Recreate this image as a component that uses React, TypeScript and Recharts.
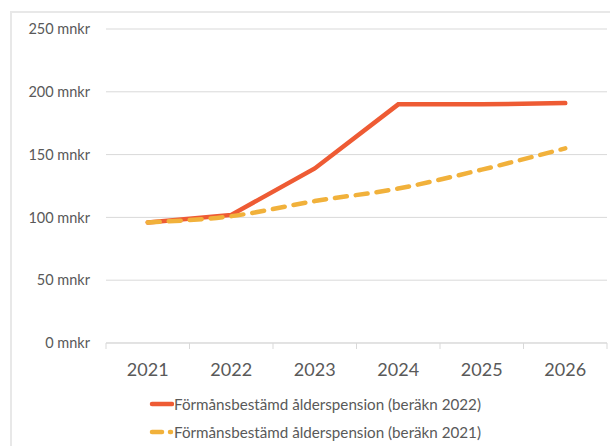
import React from 'react';
import { LineChart, Line, XAxis, YAxis, CartesianGrid } from 'recharts';

const years = ['2021', '2022', '2023', '2024', '2025', '2026'];
const beraknad2022 = [96, 102, 139, 190, 190, 191];
const beraknad2021 = [96, 101, 113, 123, 138, 155];
const yTicks = [0, 50, 100, 150, 200, 250];

const RED = '#ee5b34';
const YELLOW = '#f1b13b';
const TEXT = '#595959';
const GRID = '#d9d9d9';
const FONT = 'Lato, "Open Sans", sans-serif';

const chartData = years.map((year, i) => ({
  year,
  b2022: beraknad2022[i],
  b2021: beraknad2021[i],
}));

const HALF_BAND = 41.75;
const X_TICK_GAP = 21;

const YearTick = (props: any) => {
  const { x, y, payload, index } = props;
  const axisY = y - X_TICK_GAP;
  return (
    <g>
      <line x1={x - HALF_BAND} x2={x - HALF_BAND} y1={axisY} y2={axisY + 6} stroke={GRID} />
      {index === years.length - 1 && (
        <line x1={x + HALF_BAND} x2={x + HALF_BAND} y1={axisY} y2={axisY + 6} stroke={GRID} />
      )}
      <text x={x} y={y} textAnchor="middle" dy={12} fill={TEXT} fontSize={18} fontFamily={FONT}>
        {payload.value}
      </text>
    </g>
  );
};

const LegendBox = () => (
  <div style={{ fontFamily: FONT, fontSize: 15.2, color: TEXT, lineHeight: '28px' }}>
    <div style={{ display: 'flex', alignItems: 'center' }}>
      <svg width={25} height={10}>
        <line x1={3} x2={23} y1={5} y2={5} stroke={RED} strokeWidth={4.5} strokeLinecap="round" />
      </svg>
      <span>Förmånsbestämd ålderspension (beräkn 2022)</span>
    </div>
    <div style={{ display: 'flex', alignItems: 'center' }}>
      <svg width={25} height={10}>
        <line x1={3} x2={13} y1={5} y2={5} stroke={YELLOW} strokeWidth={4.5} strokeLinecap="round" />
        <line x1={21} x2={22} y1={5} y2={5} stroke={YELLOW} strokeWidth={4.5} strokeLinecap="round" />
      </svg>
      <span>Förmånsbestämd ålderspension (beräkn 2021)</span>
    </div>
  </div>
);

const App: React.FC = () => {
  return (
    <div style={{ position: 'absolute', left: 0, top: 0, width: 610, height: 446, background: '#fff', overflow: 'hidden' }}>
      <div
        style={{
          position: 'absolute',
          left: 10,
          top: 11,
          width: 640,
          height: 460,
          border: '2px solid #e8e8e8',
        }}
      />
      <div style={{ position: 'absolute', left: 0, top: 0 }}>
        <LineChart width={610} height={446} data={chartData} margin={{ top: 29, right: 3, left: 0, bottom: 0 }}>
          <CartesianGrid vertical={false} stroke={GRID} />
          <XAxis
            dataKey="year"
            axisLine={{ stroke: GRID }}
            tickLine={false}
            tickSize={0}
            tick={<YearTick />}
            tickMargin={X_TICK_GAP}
            height={103}
            interval={0}
            padding={{ left: HALF_BAND, right: HALF_BAND }}
          />
          <YAxis
            width={106}
            domain={[0, 250]}
            ticks={yTicks}
            axisLine={false}
            tickLine={false}
            tickSize={0}
            tickMargin={16}
            tick={{ fill: TEXT, fontSize: 14.5, fontFamily: FONT }}
            tickFormatter={(v: number) => `${v} mnkr`}
          />
          <Line
            type="linear"
            dataKey="b2022"
            stroke={RED}
            strokeWidth={4.5}
            strokeLinecap="round"
            dot={false}
            isAnimationActive={false}
          />
          <Line
            type="monotone"
            dataKey="b2021"
            stroke={YELLOW}
            strokeWidth={4.5}
            strokeDasharray="12 9"
            strokeLinecap="round"
            dot={false}
            isAnimationActive={false}
          />
        </LineChart>
      </div>
      <div style={{ position: 'absolute', left: 149, top: 390 }}>
        <LegendBox />
      </div>
    </div>
  );
};

export default App;
